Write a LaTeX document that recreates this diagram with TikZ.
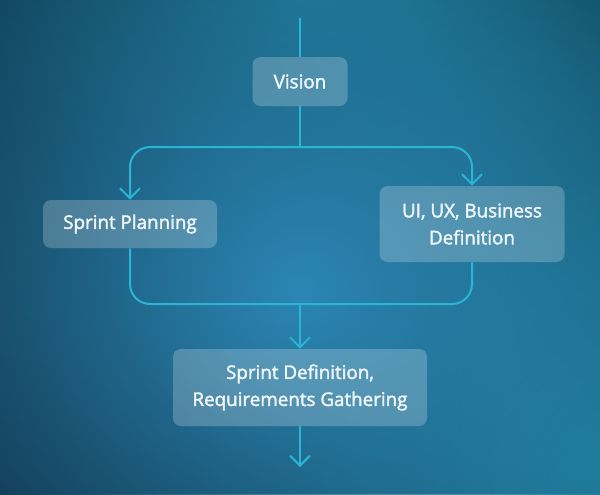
\documentclass[tikz,border=0pt]{standalone}
\usepackage{fontspec}
\setmainfont{Open Sans}
\newfontfamily\stagefont{Open Sans}[FakeBold=2]
\usetikzlibrary{arrows.meta, positioning, fadings}
\definecolor{bgbase}{HTML}{0E4558}
\definecolor{bgteal}{HTML}{1B7892}
\definecolor{bgnavy}{HTML}{0B283B}
\definecolor{bgblue}{HTML}{2C86B4}
\definecolor{flowcyan}{HTML}{29B5D5}
\definecolor{labelwhite}{HTML}{EEF7FA}
\tikzfading[name=blob, inner color=transparent!0, outer color=transparent!100]
\tikzset{
  stage/.style={rectangle, fill=white, fill opacity=0.22, text opacity=1,
    text=labelwhite, rounded corners=4pt, align=center, inner sep=0pt,
    font=\fontsize{9.4}{13.5}\selectfont\stagefont},
  flow/.style={-{Straight Barb[length=5pt,width=10pt]}, line width=1pt,
    color=flowcyan, rounded corners=10pt},
  link/.style={line width=1pt, color=flowcyan, rounded corners=10pt}
}

\begin{document}
\begin{tikzpicture}[x=0.5pt, y=-0.5pt]
  \useasboundingbox (0,0) rectangle (600,494);
  % background
  \fill[bgbase] (0,0) rectangle (600,494);
  \fill[bgteal, path fading=blob] (300,0) ellipse (360 and 280);
  \fill[bgteal, path fading=blob] (600,470) ellipse (420 and 480);
  \fill[bgnavy, path fading=blob] (0,430) ellipse (500 and 700);
  \fill[bgnavy, path fading=blob] (0,494) ellipse (360 and 420);
  \fill[bgblue, path fading=blob] (300,290) ellipse (520 and 460);

  % stages
  \node[stage, minimum width=47.5pt, minimum height=24.5pt] (vision) at (300,81.5) {Vision};
  \node[stage, minimum width=87pt, minimum height=24pt] (plan) at (130,224) {Sprint Planning};
  \node[stage, minimum width=92.5pt, minimum height=38pt] (ux) at (472,224) {UI, UX, Business\\Definition};
  \node[stage, minimum width=127pt, minimum height=38.5pt] (sprintdef) at (300,387.5) {Sprint Definition,\\Requirements Gathering};

  \coordinate (entry) at (300,18);
  \coordinate (split) at (300,147);
  \coordinate (merge) at (300,304);
  \coordinate (exit) at (300,467);

  % connectors
  \draw[link] (entry) -- (vision.north);
  \draw[link] (vision.south) -- (split);
  \draw[flow] (split) -| (plan.north);
  \draw[flow] (split) -| (ux.north);
  \draw[link] (plan.south) |- (merge);
  \draw[link] (ux.south) |- (merge);
  \draw[flow] (merge) -- (sprintdef.north);
  \draw[flow] (sprintdef.south) -- (exit);
\end{tikzpicture}
\end{document}
